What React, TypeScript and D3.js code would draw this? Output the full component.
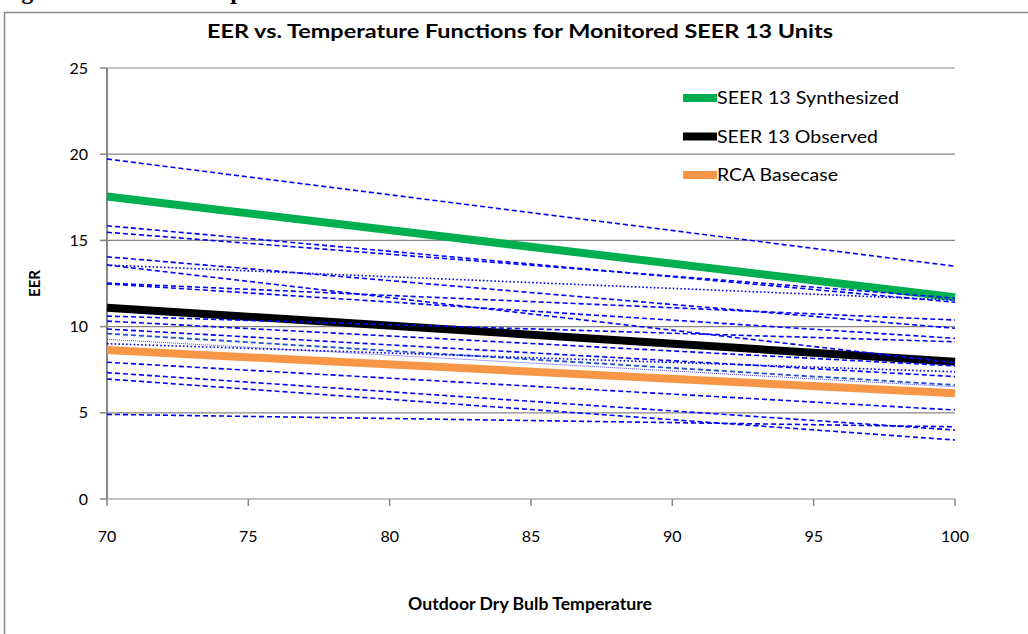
import React from "react";
import * as d3 from "d3";

// ---- data ----
const xTicks = [70, 75, 80, 85, 90, 95, 100];
const yTicks = [0, 5, 10, 15, 20, 25];
const xDomain = [70, 100];

// monitored units: EER at 70F and at 100F
const unitStart = [19.72, 15.85, 15.47, 14.05, 13.57, 13.57, 12.52, 12.48, 10.61, 10.32, 9.86, 9.59, 9.26, 9.01, 7.93, 7.33, 6.96, 4.91];
const unitEnd = [13.5, 11.41, 11.65, 9.9, 11.54, 7.9, 10.38, 9.32, 9.12, 7.72, 7.1, 6.61, 6.51, 7.38, 5.16, 4.0, 3.42, 4.19];
const unitStyle = ["dash", "dash", "dash", "dash", "dot", "dash", "dash", "dash", "dash", "dash", "dash", "dash2", "thin", "dot", "dash", "dash", "dash", "dash"];

const seriesNames = ["SEER 13 Synthesized", "SEER 13 Observed", "RCA Basecase"];
const seriesStart = [17.55, 11.1, 8.64];
const seriesEnd = [11.7, 7.96, 6.13];
const seriesColors = ["#00B050", "#000000", "#F79646"];
const legendWidths = [182, 161, 121];

const styleMap: Record<string, { stroke: string; width: number; dash: string }> = {
  dash: { stroke: "#0000FF", width: 1.6, dash: "5,3" },
  dash2: { stroke: "#1F4FD0", width: 1.8, dash: "5,3" },
  dot: { stroke: "#0000FF", width: 1.6, dash: "1.6,2.2" },
  thin: { stroke: "#3333FF", width: 0.9, dash: "1,1" },
};

const W = 1028;
const H = 634;
const M = { left: 107, right: 955, top: 68, bottom: 499 };

export default function App() {
  const x = d3.scaleLinear().domain(xDomain).range([M.left, M.right]);
  const y = d3.scaleLinear().domain([0, 25]).range([M.bottom, M.top]);
  const line = d3
    .line<[number, number]>()
    .x((d) => x(d[0]))
    .y((d) => y(d[1]));
  const font = "Lato, 'Open Sans', sans-serif";

  return (
    <svg
      width={W}
      height={H}
      style={{ position: "absolute", left: 0, top: 0, background: "#fff" }}
      fontFamily={font}
    >
      {/* cropped caption above the chart */}
      <text x={0} y={-1} fontFamily="'Liberation Serif', serif" fontWeight="bold" fontSize={24} fill="#000">
        Figure 9. EER vs. Temperature Functions
      </text>
      {/* chart frame */}
      <rect x={4.5} y={12.5} width={1040} height={640} fill="#fff" stroke="#868686" strokeWidth={1.5} />

      <text
        x={520}
        y={38}
        textAnchor="middle"
        fontWeight="bold"
        fontSize={19}
        fill="#000"
        textLength={626}
        lengthAdjust="spacingAndGlyphs"
      >
        EER vs. Temperature Functions for Monitored SEER 13 Units
      </text>

      {/* gridlines */}
      {yTicks.map((t) => (
        <line key={"g" + t} x1={M.left} x2={M.right} y1={y(t)} y2={y(t)} stroke="#868686" strokeWidth={1.2} />
      ))}
      {/* y axis */}
      <line x1={M.left} x2={M.left} y1={M.top} y2={M.bottom} stroke="#868686" strokeWidth={2} />
      {yTicks.map((t) => (
        <g key={"yt" + t}>
          <line x1={M.left - 7} x2={M.left} y1={y(t)} y2={y(t)} stroke="#868686" strokeWidth={1.5} />
          <text x={M.left - 19} y={y(t) + 5.5} textAnchor="end" fontSize={16} fill="#000">
            {t}
          </text>
        </g>
      ))}
      {/* x axis */}
      {xTicks.map((t) => (
        <g key={"xt" + t}>
          <line x1={x(t)} x2={x(t)} y1={M.bottom} y2={M.bottom + 7} stroke="#868686" strokeWidth={1.5} />
          <text x={x(t)} y={M.bottom + 43} textAnchor="middle" fontSize={16} fill="#000">
            {t}
          </text>
        </g>
      ))}

      {/* thick series */}
      {seriesNames.map((n, i) => (
        <path
          key={"s" + n}
          d={line([
            [xDomain[0], seriesStart[i]],
            [xDomain[1], seriesEnd[i]],
          ]) || ""}
          fill="none"
          stroke={seriesColors[i]}
          strokeWidth={8}
        />
      ))}

      {/* monitored units */}
      {unitStart.map((v, i) => {
        const s = styleMap[unitStyle[i]];
        return (
          <path
            key={"u" + i}
            d={line([
              [xDomain[0], v],
              [xDomain[1], unitEnd[i]],
            ]) || ""}
            fill="none"
            stroke={s.stroke}
            strokeWidth={s.width}
            strokeDasharray={s.dash}
          />
        );
      })}

      {/* legend */}
      {seriesNames.map((n, i) => (
        <g key={"l" + n}>
          <line x1={683} x2={717} y1={98 + i * 38.5} y2={98 + i * 38.5} stroke={seriesColors[i]} strokeWidth={8} />
          <text
            x={717}
            y={98 + i * 38.5 + 6}
            fontSize={17}
            fill="#000"
            textLength={legendWidths[i]}
            lengthAdjust="spacingAndGlyphs"
          >
            {n}
          </text>
        </g>
      ))}

      <text
        x={530}
        y={610}
        textAnchor="middle"
        fontWeight="bold"
        fontSize={16.5}
        fill="#000"
        textLength={244}
        lengthAdjust="spacingAndGlyphs"
      >
        Outdoor Dry Bulb Temperature
      </text>
      <text
        transform={`translate(40, ${(M.top + M.bottom) / 2}) rotate(-90)`}
        textAnchor="middle"
        fontWeight="bold"
        fontSize={16}
        fill="#000"
        textLength={27}
        lengthAdjust="spacingAndGlyphs"
      >
        EER
      </text>
    </svg>
  );
}
